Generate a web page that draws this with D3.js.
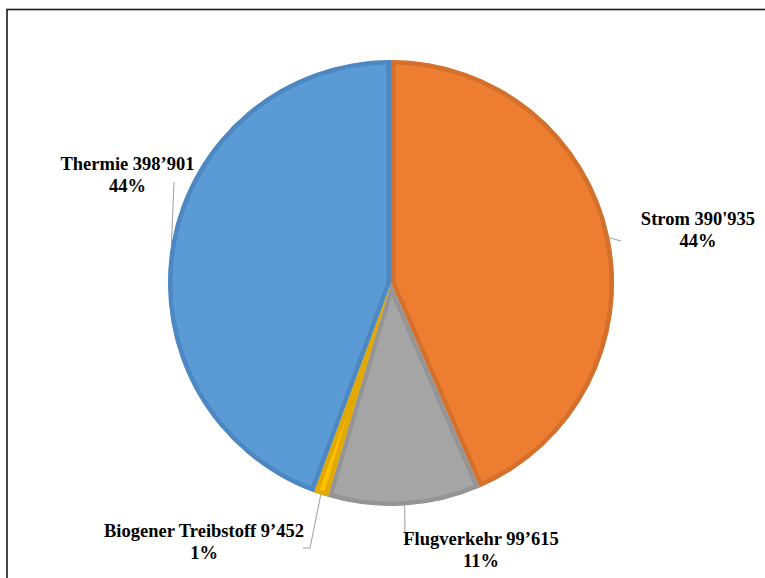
<!DOCTYPE html>
<html>
<head>
<meta charset="utf-8">
<script src="https://cdn.jsdelivr.net/npm/d3@7"></script>
<style>
  html, body { margin: 0; padding: 0; background: #fff; }
  svg { display: block; }
  text { font-family: "Liberation Serif", "Times New Roman", serif; font-weight: bold; font-size: 18.5px; fill: #000; }
</style>
</head>
<body>
<svg id="chart" width="765" height="578"></svg>
<script>
// ---- data ----
const categories = ["Strom", "Flugverkehr", "Biogener Treibstoff", "Thermie"];
const values = [390935, 99615, 9452, 398901];
const valueLabels = ["390'935", "99’615", "9’452", "398’901"];
const percentLabels = ["44%", "11%", "1%", "44%"];

// ---- styles / layout ----
const fills = ["#ED7D31", "#A5A5A5", "#FFC000", "#5B9BD5"];
const borders = ["#D4702C", "#959595", "#E2AA00", "#4D88C2"];
const W = 765, H = 578;
const cx = 391, cy = 283, R = 223;
// label anchors (text center x, first baseline y) and leader bend points
const labelLayout = [
  { x: 698, y: 225, path: [[621, 241]] },
  { x: 481, y: 545, path: [[405, 532]] },
  { x: 204, y: 536.5, path: [[310, 548], [303, 548]] },
  { x: 127.5, y: 169.5, path: [[174, 182]] }
];

const svg = d3.select("#chart");

// frame
svg.append("rect")
  .attr("x", 7).attr("y", 9.5)
  .attr("width", W + 50).attr("height", H + 50)
  .attr("fill", "none").attr("stroke", "#1a1a1a").attr("stroke-width", 1.6);

const data = categories.map((c, i) => ({ c, v: values[i], i }));
const pie = d3.pie().value(d => d.v).sort(null);
const arcs = pie(data);
const arc = d3.arc().innerRadius(0).outerRadius(R);

const g = svg.append("g").attr("transform", `translate(${cx},${cy})`);
const defs = svg.append("defs");

arcs.forEach((a, i) => {
  defs.append("clipPath").attr("id", "clip" + i)
    .append("path").attr("d", arc(a));
});

g.selectAll("path.slice")
  .data(arcs)
  .join("path")
  .attr("class", "slice")
  .attr("d", arc)
  .attr("fill", (d, i) => fills[i])
  .attr("stroke", (d, i) => borders[i])
  .attr("stroke-width", 9)
  .attr("stroke-linejoin", "round")
  .attr("clip-path", (d, i) => `url(#clip${i})`);

// leader lines
arcs.forEach((a, i) => {
  const mid = (a.startAngle + a.endAngle) / 2;
  const start = [cx + R * Math.sin(mid), cy - R * Math.cos(mid)];
  const pts = [start].concat(labelLayout[i].path);
  svg.append("path")
    .attr("d", d3.line()(pts))
    .attr("fill", "none")
    .attr("stroke", "#A6A6A6")
    .attr("stroke-width", 1.1);
});

// labels
arcs.forEach((a, i) => {
  const L = labelLayout[i];
  const t = svg.append("text").attr("text-anchor", "middle");
  t.append("tspan").attr("x", L.x).attr("y", L.y)
    .text(categories[i] + " " + valueLabels[i]);
  t.append("tspan").attr("x", L.x).attr("y", L.y + 22)
    .text(percentLabels[i]);
});
</script>
</body>
</html>
